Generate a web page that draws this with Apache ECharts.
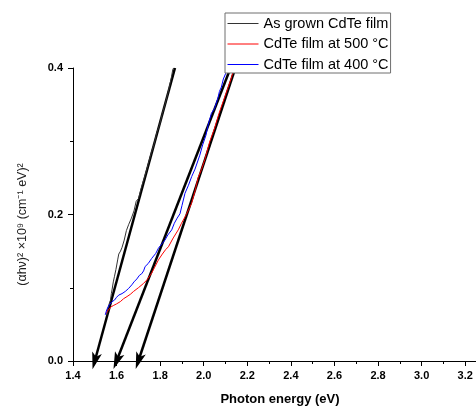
<!DOCTYPE html>
<html>
<head>
<meta charset="utf-8">
<script src="https://cdn.jsdelivr.net/npm/echarts@6/dist/echarts.min.js"></script>
<style>
    html, body { margin: 0; padding: 0; background: #fff; }
    #main { width: 476px; height: 408px; }
</style>
</head>
<body>
<div id="main"></div>
<script>
var names = ['As grown CdTe film', 'CdTe film at 500 °C', 'CdTe film at 400 °C'];
var colors = ['#000000', '#ff0000', '#0000ff'];

// [photon energy (eV), (αhν)² ×10⁹]
var asGrown = [
    [1.555, 0.063], [1.560, 0.072], [1.566, 0.078], [1.572, 0.083], [1.576, 0.092],
    [1.579, 0.097], [1.585, 0.108], [1.590, 0.115], [1.597, 0.125], [1.605, 0.138],
    [1.610, 0.146], [1.618, 0.150], [1.625, 0.155], [1.635, 0.165], [1.645, 0.178],
    [1.655, 0.186], [1.668, 0.195], [1.680, 0.205], [1.690, 0.218], [1.701, 0.222],
    [1.712, 0.235], [1.724, 0.247], [1.735, 0.258], [1.748, 0.272], [1.760, 0.285],
    [1.772, 0.296], [1.785, 0.312], [1.797, 0.322], [1.810, 0.338], [1.822, 0.350],
    [1.835, 0.365], [1.845, 0.378], [1.852, 0.388], [1.858, 0.398], [1.862, 0.400]
];
var film500 = [
    [1.553, 0.065], [1.558, 0.068], [1.564, 0.070], [1.575, 0.074], [1.587, 0.076],
    [1.600, 0.078], [1.617, 0.081], [1.632, 0.085], [1.648, 0.088], [1.663, 0.091],
    [1.678, 0.095], [1.700, 0.100], [1.724, 0.106], [1.740, 0.111], [1.761, 0.120],
    [1.775, 0.128], [1.792, 0.138], [1.810, 0.146], [1.825, 0.152], [1.838, 0.156],
    [1.860, 0.168], [1.883, 0.179], [1.898, 0.188], [1.920, 0.200], [1.944, 0.215],
    [1.960, 0.232], [1.974, 0.250], [1.989, 0.261], [2.005, 0.275], [2.027, 0.299],
    [2.050, 0.318], [2.070, 0.338], [2.090, 0.355], [2.110, 0.372], [2.125, 0.385],
    [2.140, 0.400]
];
var film400 = [
    [1.548, 0.063], [1.555, 0.070], [1.565, 0.076], [1.579, 0.081], [1.590, 0.083],
    [1.600, 0.087], [1.610, 0.090], [1.625, 0.092], [1.640, 0.095], [1.655, 0.099],
    [1.670, 0.104], [1.680, 0.108], [1.693, 0.112], [1.705, 0.117], [1.715, 0.119],
    [1.724, 0.123], [1.731, 0.129], [1.745, 0.133], [1.761, 0.140], [1.770, 0.139],
    [1.780, 0.147], [1.792, 0.154], [1.800, 0.152], [1.808, 0.160], [1.822, 0.165],
    [1.835, 0.172], [1.853, 0.179], [1.865, 0.188], [1.878, 0.195], [1.891, 0.201],
    [1.900, 0.212], [1.914, 0.229], [1.930, 0.240], [1.945, 0.252], [1.960, 0.262],
    [1.982, 0.281], [1.995, 0.295], [2.010, 0.308], [2.020, 0.322], [2.035, 0.338],
    [2.050, 0.345], [2.065, 0.359], [2.072, 0.368], [2.081, 0.374], [2.090, 0.385],
    [2.100, 0.392], [2.111, 0.400]
];

// linear fits extrapolated down to the energy axis (top point, intercept)
var fitLines = [
    [[1.868, 0.4], [1.5, 0]],
    [[2.123, 0.4], [1.6, 0]],
    [[2.145, 0.4], [1.7, 0]]
];

var font = "'Liberation Sans', Arial, sans-serif";
// narrow arrow head, padded to a square box so it is not stretched
var arrowHead = 'path://M0,0 M17,17 M8.5,0 L13.5,17 L8.5,13 L3.5,17 Z';

var myChart = echarts.init(document.getElementById('main'));

var option = {
    animation: false,
    grid: {
        left: 73,
        top: 68,
        width: 414,
        height: 293,
        outerBoundsMode: 'none'
    },
    legend: {
        orient: 'vertical',
        left: 225,
        top: 13,
        padding: [3, 2, 1, 2],
        itemGap: 5.5,
        itemWidth: 31,
        itemHeight: 14,
        backgroundColor: '#fff',
        borderColor: '#6e6e6e',
        borderWidth: 1,
        borderRadius: 0,
        itemStyle: {opacity: 0},
        lineStyle: {width: 1},
        textStyle: {
            fontFamily: font,
            fontSize: 14.5,
            color: '#000'
        },
        data: names
    },
    xAxis: {
        type: 'value',
        min: 1.4,
        max: 3.3,
        interval: 0.2,
        name: 'Photon energy (eV)',
        nameLocation: 'middle',
        nameGap: 32,
        nameTextStyle: {
            fontFamily: font,
            fontSize: 13,
            fontWeight: 'bold',
            color: '#000'
        },
        splitLine: {show: false},
        axisLine: {onZero: false, lineStyle: {color: '#000', width: 1}},
        axisTick: {inside: false, length: 5, lineStyle: {color: '#000'}},
        minorTick: {show: true, splitNumber: 2, length: 3, lineStyle: {color: '#000'}},
        axisLabel: {
            margin: 9,
            fontFamily: font,
            fontSize: 11,
            fontWeight: 'bold',
            color: '#000',
            formatter: function (v) {
                return v > 3.21 ? '' : v.toFixed(1);
            }
        }
    },
    yAxis: {
        type: 'value',
        min: 0,
        max: 0.4,
        interval: 0.2,
        name: '(αhν)² ×10⁹ (cm⁻¹ eV)²',
        nameLocation: 'middle',
        nameGap: 44,
        nameTextStyle: {
            fontFamily: font,
            fontSize: 12.5,
            color: '#222',
            padding: [0, 20, 0, 0]
        },
        splitLine: {show: false},
        axisLine: {show: true, lineStyle: {color: '#000', width: 1}},
        axisTick: {show: true, inside: false, length: 5, lineStyle: {color: '#000'}},
        minorTick: {show: true, splitNumber: 2, length: 3, lineStyle: {color: '#000'}},
        axisLabel: {
            margin: 10,
            fontFamily: font,
            fontSize: 11,
            fontWeight: 'bold',
            color: '#000',
            formatter: function (v) {
                return v.toFixed(1);
            }
        }
    },
    series: [
        {
            name: names[0],
            type: 'line',
            data: asGrown,
            showSymbol: false,
            symbol: 'none',
            color: colors[0],
            lineStyle: {width: 1, color: '#333'}
        },
        {
            name: names[1],
            type: 'line',
            data: film500,
            showSymbol: false,
            symbol: 'none',
            color: colors[1],
            lineStyle: {width: 1}
        },
        {
            name: names[2],
            type: 'line',
            data: film400,
            showSymbol: false,
            symbol: 'none',
            color: colors[2],
            lineStyle: {width: 1}
        },
        {
            name: 'fit',
            type: 'lines',
            coordinateSystem: 'cartesian2d',
            clip: false,
            symbol: ['none', arrowHead],
            symbolSize: 17,
            lineStyle: {color: '#000', width: 2.5, opacity: 1},
            data: fitLines.map(function (c) {
                return {coords: c};
            })
        }
    ]
};

myChart.setOption(option);
</script>
</body>
</html>
